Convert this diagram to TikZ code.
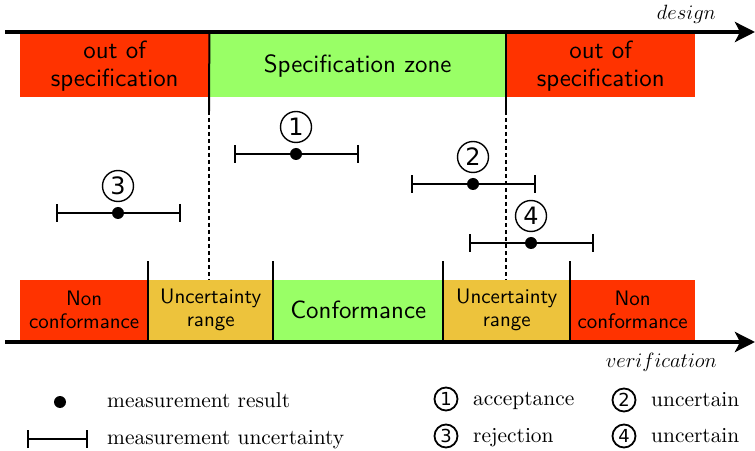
\documentclass[tikz,border=0pt]{standalone}
\usepackage{fontspec}
\usetikzlibrary{arrows.meta}
\newfontfamily\zonefont{lmsans10-regular.otf}
\newfontfamily\legendfont{lmroman10-regular.otf}
\newfontfamily\digitfont{DejaVu Sans}

\definecolor{zred}{RGB}{255,51,0}
\definecolor{zgreen}{RGB}{153,255,102}
\definecolor{zyellow}{RGB}{237,195,60}

\begin{document}
\begin{tikzpicture}[x=1bp,y=-1bp,
  zone/.style={anchor=north west,inner sep=0pt,align=center,
    font=\zonefont\fontsize{25}{28}\selectfont},
  smallzone/.style={zone,font=\zonefont\fontsize{21}{23}\selectfont},
  axis/.style={line width=4bp,-{Stealth[length=20bp,width=20bp,inset=5bp]}},
  divider/.style={line width=2bp},
  limit/.style={line width=1.8bp,dash pattern=on 4bp off 3bp},
  errbar/.style={line width=2bp,{Bar[width=18bp]}-{Bar[width=18bp]}},
  dot/.style={circle,fill=black,inner sep=0pt,minimum size=12bp},
  numc/.style={circle,draw,line width=1.4bp,inner sep=0pt,minimum size=31bp,
    font=\digitfont\fontsize{24}{24}\selectfont},
  legnum/.style={circle,draw,line width=1.8bp,inner sep=0pt,minimum size=23bp,
    font=\digitfont\fontsize{18}{18}\selectfont},
  legtext/.style={anchor=base west,inner sep=0pt,
    font=\legendfont\fontsize{21.5}{21.5}\selectfont},
  axlabel/.style={anchor=base east,inner sep=0pt,font=\fontsize{20}{20}\selectfont}]
\useasboundingbox (0,0) rectangle (755,451);

% design zones
\node[zone,fill=zred,minimum width=189bp,minimum height=63bp] (t1) at (20,34) {out of\\specification};
\node[zone,fill=zgreen,minimum width=297bp,minimum height=63bp] (t2) at (209,34) {Specification zone};
\node[zone,fill=zred,minimum width=189bp,minimum height=63bp] (t3) at (506,34) {out of\\specification};

% verification zones
\node[smallzone,fill=zred,minimum width=128bp,minimum height=60bp] (b1) at (20,280) {Non\\conformance};
\node[smallzone,fill=zyellow,minimum width=125bp,minimum height=60bp] (b2) at (148,280) {Uncertainty\\range};
\node[zone,fill=zgreen,minimum width=170bp,minimum height=60bp] (b3) at (273,280) {Conformance};
\node[smallzone,fill=zyellow,minimum width=127bp,minimum height=60bp] (b4) at (443,280) {Uncertainty\\range};
\node[smallzone,fill=zred,minimum width=125bp,minimum height=60bp] (b5) at (570,280) {Non\\conformance};

% specification limits
\coordinate (l1) at (209,111);
\coordinate (l2) at (506,111);
\draw[divider] (t1.north east) -- (l1);
\draw[divider] (t3.north west) -- (l2);
\draw[limit] (l1) -- (l1 |- b2.north);
\draw[limit] (l2) -- (l2 |- b4.north);

% uncertainty range borders
\foreach \b in {b1,b2,b3,b4}
  \draw[divider] (\b.south east) -- ([yshift=19bp]\b.north east);

% axes
\coordinate (a1) at (5,32);
\coordinate (a2) at (755,32);
\coordinate (a3) at (5,342);
\coordinate (a4) at (755,342);
\draw[axis] (a1) -- (a2);
\draw[axis] (a3) -- (a4);
\node[axlabel] (design) at (716,20) {$design$};
\node[axlabel] (verif) at (717,368) {$verification$};

% measurements
\foreach \n/\x/\y in {1/296/154, 2/473/184, 3/118/213, 4/531/243}{
  \coordinate (m\n) at (\x,\y);
  \draw[errbar] ([xshift=-62.5bp]m\n) -- ([xshift=62.5bp]m\n);
  \node[dot] (p\n) at (m\n) {};
  \node[numc] (c\n) at ([yshift=27bp]m\n) {\n};
}

% legend
\node[dot] (ld) at (60,402) {};
\node[legtext] (lt1) at (107,407) {measurement result};
\coordinate (lb1) at (27,439);
\coordinate (lb2) at (88,439);
\draw[errbar] (lb1) -- (lb2);
\node[legtext] (lt2) at (107,444) {measurement uncertainty};

\node[legnum] (k1) at (446,399) {1};
\node[legtext] (kt1) at (473,405) {acceptance};
\node[legnum] (k2) at (624,400) {2};
\node[legtext] (kt2) at (651,406) {uncertain};
\node[legnum] (k3) at (446,436) {3};
\node[legtext] (kt3) at (473,442) {rejection};
\node[legnum] (k4) at (624,436) {4};
\node[legtext] (kt4) at (651,442) {uncertain};
\end{tikzpicture}
\end{document}
